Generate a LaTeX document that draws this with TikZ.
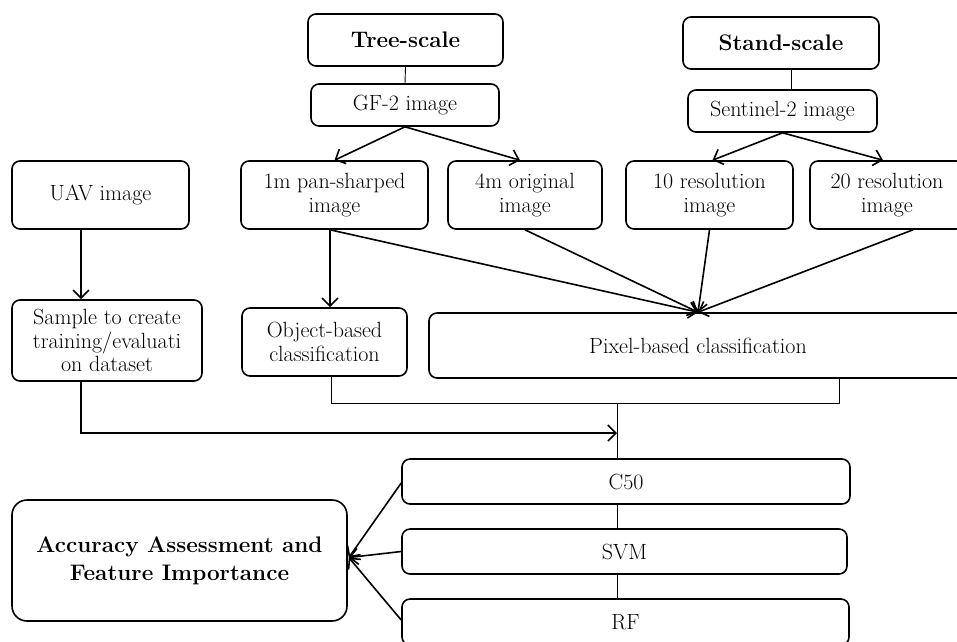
\documentclass[tikz,border=0pt]{standalone}
\usepackage{fontspec}
\usetikzlibrary{arrows.meta,calc}
\tikzset{
  box/.style={draw, line width=1.6pt, rounded corners=8pt, align=center, inner sep=2pt,
    font=\fontsize{22}{23.5}\selectfont},
  bigbox/.style={box, font=\bfseries\fontsize{22.5}{28}\selectfont},
  arr/.style={line width=1.6pt, -{Straight Barb[length=8pt,width=16pt,line width=1.6pt]}},
  thin/.style={line width=0.9pt}
}
\begin{document}
\begin{tikzpicture}[x=1pt,y=-1pt]
\useasboundingbox (0,0) rectangle (957,641);
\clip (0,0) rectangle (957,641);
% nodes
\node[bigbox, minimum width=195pt, minimum height=52pt] (tree) at (405.5,40) {Tree-scale};
\node[box, minimum width=188pt, minimum height=42pt] (gf2) at (405,105) {GF-2 image};
\node[bigbox, minimum width=196pt, minimum height=52pt] (stand) at (781,43) {Stand-scale};
\node[box, minimum width=189pt, minimum height=42pt] (sent) at (782.5,111) {Sentinel-2 image};
\node[box, minimum width=177pt, minimum height=68pt] (uav) at (100.5,195) {UAV image};
\node[box, minimum width=187pt, minimum height=68pt] (pan) at (334.5,195) {1m pan-sharped\\image};
\node[box, minimum width=154pt, minimum height=68pt] (orig) at (525,195) {4m original\\image};
\node[box, minimum width=167pt, minimum height=68pt] (res10) at (709.5,195) {10 resolution\\image};
\node[box, minimum width=154pt, minimum height=68pt] (res20) at (887,195) {20 resolution\\image};
\node[box, minimum width=190pt, minimum height=81pt] (sample) at (107,340.5) {Sample to create\\training/evaluati\\on dataset};
\node[box, minimum width=165pt, minimum height=68pt] (obj) at (324.5,342) {Object-based\\classification};
\node[box, minimum width=538pt, minimum height=65pt] (pix) at (698,345.5) {Pixel-based classification};
\node[box, minimum width=448pt, minimum height=45pt] (c50) at (626,481.5) {C50};
\node[box, minimum width=445pt, minimum height=45pt] (svm) at (624.5,551.5) {SVM};
\node[box, minimum width=447pt, minimum height=46pt] (rf) at (625.5,622) {RF};
\node[bigbox, rounded corners=15pt, minimum width=335pt, minimum height=121pt] (acc) at (179.5,560.5) {Accuracy Assessment and\\Feature Importance};
% helper coordinates
\coordinate (sx) at (791,0);
\coordinate (ux) at (81,0);
\coordinate (px) at (330,0);
\coordinate (ox) at (331,0);
\coordinate (rx) at (913,0);
\coordinate (jx) at (617,0);
\coordinate (mx) at (839,0);
\coordinate (row1) at (0,403);
\coordinate (row2) at (0,433);
% connectors
\draw[thin] (tree.south) -- (gf2.north);
\draw[thin] (stand.south -| sx) -- (sent.north -| sx);
\draw[arr] (gf2.south) -- (pan.north);
\draw[arr] (gf2.south) -- ($(orig.north)+(-5,0)$);
\draw[arr] (sent.south) -- ($(res10.north)+(3,0)$);
\draw[arr] (sent.south) -- ($(res20.north)+(-4,0)$);
\draw[arr] (uav.south -| ux) -- (sample.north -| ux);
\draw[arr] (pan.south -| px) -- (obj.north -| px);
\draw[arr] (pan.south -| px) -- (pix.north);
\draw[arr] (orig.south) -- (pix.north);
\draw[arr] (res10.south) -- (pix.north);
\draw[arr] (res20.south -| rx) -- (pix.north);
\draw[thin] (obj.south -| ox) -- (row1 -| ox) -- (row1 -| mx) -- (pix.south -| mx);
\draw[thin] (row1 -| jx) -- (c50.north -| jx);
\draw[arr] (sample.south -| ux) -- (row2 -| ux) -- (row2 -| jx);
\draw[thin] (c50.south -| jx) -- (svm.north -| jx);
\draw[thin] (svm.south -| jx) -- (rf.north -| jx);
\draw[arr] ($(c50.west)+(0,1.5)$) -- ($(acc.east)+(1,-3)$);
\draw[arr] (svm.west) -- ($(acc.east)+(1,-3)$);
\draw[arr] ($(rf.west)+(0,-2)$) -- ($(acc.east)+(1,-3)$);
\end{tikzpicture}
\end{document}
